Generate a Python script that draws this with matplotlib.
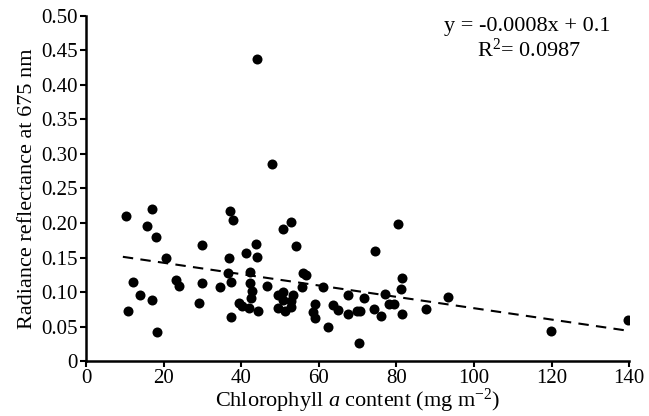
import numpy as np
import matplotlib
matplotlib.use("Agg")
import matplotlib.pyplot as plt

plt.rcParams['font.family'] = ['Liberation Serif', 'DejaVu Serif']
plt.rcParams['mathtext.fontset'] = 'custom'
plt.rcParams['mathtext.rm'] = 'Liberation Serif'
plt.rcParams['mathtext.it'] = 'Liberation Serif:italic'

# chlorophyll a content (mg m-2) vs radiance reflectance at 675 nm
chl = [10.2, 17.1, 15.7, 18.1, 20.6, 12.0, 14.0, 17.1, 10.9, 18.4,
       23.1, 24.0, 29.8, 29.8, 29.0, 34.5, 37.2, 37.9, 36.9, 36.6,
       37.5, 37.4, 41.3, 43.9, 44.0, 42.2, 42.2, 42.9, 42.6, 39.5,
       40.2, 41.9, 44.3, 46.7, 44.0, 47.9,
       52.8, 50.7, 54.2, 80.5, 74.4, 56.0, 56.6, 55.6, 61.0, 81.5,
       81.2, 93.4, 50.9, 53.3, 49.6, 52.9, 50.8, 49.4, 51.2, 52.8,
       58.9, 58.4, 58.9, 67.4, 71.7, 77.0, 78.0, 79.4, 63.6, 64.9,
       67.4, 69.9, 70.5, 74.1, 76.0, 81.5, 87.7, 62.3, 70.3,
       119.8, 139.8]
refl = [0.210, 0.220, 0.195, 0.180, 0.149, 0.115, 0.096, 0.088, 0.072, 0.042,
        0.117, 0.109, 0.168, 0.113, 0.084, 0.107, 0.218, 0.205, 0.149, 0.128,
        0.115, 0.064, 0.157, 0.169, 0.151, 0.129, 0.113, 0.101, 0.092, 0.084,
        0.080, 0.077, 0.073, 0.109, 0.438, 0.286,
        0.202, 0.191, 0.167, 0.198, 0.160, 0.128, 0.125, 0.107, 0.107, 0.120,
        0.105, 0.093, 0.100, 0.096, 0.095, 0.087, 0.088, 0.077, 0.072, 0.078,
        0.083, 0.071, 0.062, 0.095, 0.091, 0.097, 0.082, 0.082, 0.081, 0.074,
        0.068, 0.072, 0.073, 0.075, 0.066, 0.068, 0.075, 0.050, 0.026,
        0.044, 0.060]

# trend line as drawn
fit_x = [9.5, 139]
fit_y = [0.151, 0.0445]

xticks = [0, 20, 40, 60, 80, 100, 120, 140]
yticks = [0, 0.05, 0.10, 0.15, 0.20, 0.25, 0.30, 0.35, 0.40, 0.45, 0.50]
ylabels = ["0"] + ["%.2f" % v for v in yticks[1:]]

fig = plt.figure(figsize=(6.49, 4.16), dpi=100)
ax = fig.add_axes([0.1325, 0.132, 0.837, 0.830])

ax.scatter(chl, refl, s=52, color='black', zorder=3, linewidths=0)
ax.plot(fit_x, fit_y, color='black', lw=1.5, dashes=(5, 3.5))

ax.set_xlim(0, 140)
ax.set_ylim(0, 0.5)
ax.set_xticks(xticks)
ax.set_yticks(yticks)
ax.set_yticklabels(ylabels)
ax.tick_params(direction='out', length=4, width=1.5, labelsize=15, pad=2)

for s in ['top', 'right']:
    ax.spines[s].set_visible(False)
for s in ['left', 'bottom']:
    ax.spines[s].set_linewidth(1.8)

ax.set_xlabel(r"Chlorophyll $\it{a}$ content (mg m$^{-2}$)", fontsize=16, labelpad=-1)
ax.set_ylabel("Radiance reflectance at 675 nm", fontsize=16, labelpad=3)

ax.text(0.812, 0.968, "y = -0.0008x + 0.1", transform=ax.transAxes,
        ha='center', va='center', fontsize=16)
ax.text(0.815, 0.900, "R$^2$= 0.0987", transform=ax.transAxes,
        ha='center', va='center', fontsize=16)

fig.savefig("out.png", dpi=100)
